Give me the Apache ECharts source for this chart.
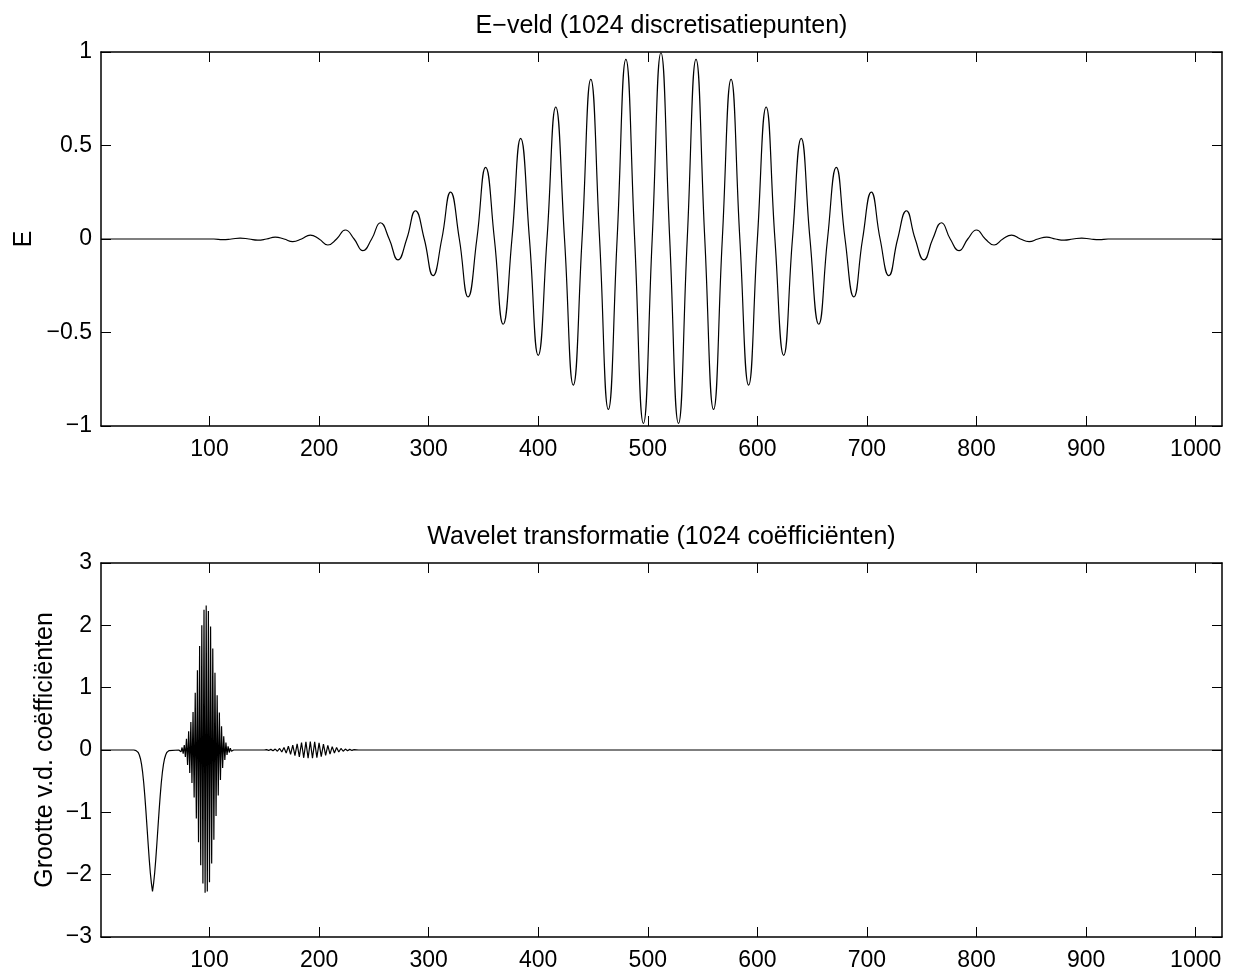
<!DOCTYPE html>
<html><head><meta charset="utf-8">
<script src="https://cdn.jsdelivr.net/npm/echarts@6/dist/echarts.min.js"></script>
<style>html,body{margin:0;padding:0;background:#fff}#c{width:1234px;height:973px}</style>
</head><body><div id="c"></div>
<script>
// ---- data ----
const xTicks = [100, 200, 300, 400, 500, 600, 700, 800, 900, 1000];
const eTicks = [-1, -0.5, 0, 0.5, 1];
const wTicks = [-3, -2, -1, 0, 1, 2, 3];

const topTitle = 'E\u2212veld (1024 discretisatiepunten)';
const botTitle = 'Wavelet transformatie (1024 co\u00ebffici\u00ebnten)';
const topYName = 'E';
const botYName = 'Grootte v.d. co\u00ebffici\u00ebnten';

// E-field: extrema and zero crossings
const ePos = [1,
 104,112,120,128,136,144,152,160,168,176,184,192,200,208,216,224,232,240,248,256,
 264,272,280,288,296,304,312,320,328,336,344,352,360,368,376,384,392,400,408,416,
 424,432,440,448,456,464,472,480,488,496,504,512,520,528,536,544,552,560,568,576,
 584,592,600,608,616,624,632,640,648,656,664,672,680,688,696,704,712,720,728,736,
 744,752,760,768,776,784,792,800,808,816,824,832,840,848,856,864,872,880,888,896,
 904,912,920,
 1024];
const eVal = [0,
 0,-0.003,0,0.005,0,-0.006,0,0.010,0,-0.014,0,0.021,0,-0.032,0,0.048,0,-0.062,0,0.087,
 0,-0.112,0,0.151,0,-0.196,0,0.251,0,-0.310,0,0.383,0,-0.456,0,0.538,0,-0.622,0,0.706,
 0,-0.781,0,0.854,0,-0.911,0,0.961,0,-0.986,0,0.996,0,-0.986,0,0.961,0,-0.911,0,0.854,
 0,-0.781,0,0.706,0,-0.622,0,0.538,0,-0.456,0,0.383,0,-0.310,0,0.251,0,-0.196,0,0.151,
 0,-0.112,0,0.087,0,-0.062,0,0.048,0,-0.032,0,0.021,0,-0.014,0,0.010,0,-0.006,0,0.005,
 0,-0.003,0,
 0];

// Wavelet coefficients
const wPos = [1, 31,
 32,33,34,35,36,37,38,39,40,41,42,43,44,45,46,47,48,49,50,51,52,53,54,55,56,57,58,59,60,61,62,63,64,
 72,
 73,74,75,76,77,78,79,80,81,82,83,84,85,86,87,88,89,90,91,92,93,94,95,96,97,98,99,100,
 101,102,103,104,105,106,107,108,109,110,111,112,113,114,115,116,117,118,119,120,121,
 122, 150,
 152,154,156,158,160,162,164,166,168,170,172,174,176,178,180,182,184,186,188,190,192,
 194,196,198,200,202,204,206,208,210,212,214,216,218,220,222,224,226,228,230,232,
 236, 1024];
const wVal = [0, 0,
 0,-0.01,-0.02,-0.04,-0.08,-0.14,-0.23,-0.36,-0.53,-0.74,-0.98,-1.24,-1.50,-1.75,-1.97,-2.14,-2.27,
 -2.14,-1.97,-1.75,-1.50,-1.24,-0.98,-0.74,-0.53,-0.36,-0.23,-0.14,-0.08,-0.04,-0.02,-0.01,0,
 0,
 0.02,-0.03,0.04,-0.06,0.08,-0.11,0.18,-0.24,0.30,-0.37,0.45,-0.53,0.61,-0.76,0.92,-1.10,1.28,-1.48,
 1.67,-1.85,2.00,-2.14,2.25,-2.29,2.32,-2.27,2.23,-2.12,
 1.98,-1.82,1.63,-1.44,1.24,-1.06,0.88,-0.73,0.60,-0.48,0.38,-0.29,0.22,-0.16,0.12,-0.08,0.06,-0.04,
 0.03,-0.02,0.01,
 0, 0,
 0.005,-0.007,0.010,-0.012,0.015,-0.020,0.025,-0.032,0.040,-0.050,0.060,-0.070,0.080,-0.090,0.100,
 -0.110,0.120,-0.125,0.130,-0.133,0.135,
 -0.133,0.130,-0.123,0.115,-0.105,0.095,-0.085,0.075,-0.065,0.055,-0.047,0.040,-0.032,0.025,-0.020,
 0.015,-0.012,0.010,-0.007,0.005,
 0, 0];

// ---- chart ----
const FONT = '"Liberation Sans", Arial, Helvetica, sans-serif';
const FS = 23;   // tick labels
const FS2 = 25;  // titles and axis names
const minus = v => String(v).replace('-', '\u2212');

function xAx(grid, pos, labels) {
  return {
    type: 'value', gridIndex: grid, position: pos, min: 1, max: 1024,
    axisLine: { show: true, onZero: false, lineStyle: { color: '#000', width: 1.5 } },
    axisTick: { show: true, inside: true, length: 10, customValues: xTicks, lineStyle: { color: '#000', width: 1 } },
    axisLabel: { show: labels, customValues: xTicks, color: '#000', fontFamily: FONT, fontSize: FS, margin: 12, formatter: minus },
    splitLine: { show: false }
  };
}
function yAx(grid, pos, labels, ticks) {
  return {
    type: 'value', gridIndex: grid, position: pos,
    min: ticks[0], max: ticks[ticks.length - 1], interval: ticks[1] - ticks[0],
    axisLine: { show: true, onZero: false, lineStyle: { color: '#000', width: 1.5 } },
    axisTick: { show: true, inside: true, length: 10, lineStyle: { color: '#000', width: 1 } },
    axisLabel: { show: labels, color: '#000', fontFamily: FONT, fontSize: FS, margin: 9, formatter: minus },
    splitLine: { show: false }
  };
}
function txt(text, x, y, rot) {
  return {
    type: 'text', x: x, y: y, rotation: rot || 0, silent: true,
    style: { text: text, fill: '#000', font: FS2 + 'px ' + FONT,
             align: 'center', verticalAlign: 'middle', textAlign: 'center', textVerticalAlign: 'middle' }
  };
}

const chart = echarts.init(document.getElementById('c'), null, { renderer: 'canvas' });
chart.setOption({
  animation: false,
  backgroundColor: '#fff',
  grid: [
    { left: 101, top: 52, width: 1121, height: 374, containLabel: false },
    { left: 101, top: 563, width: 1121, height: 374, containLabel: false }
  ],
  xAxis: [xAx(0, 'bottom', true), xAx(0, 'top', false), xAx(1, 'bottom', true), xAx(1, 'top', false)],
  yAxis: [yAx(0, 'left', true, eTicks), yAx(0, 'right', false, eTicks),
          yAx(1, 'left', true, wTicks), yAx(1, 'right', false, wTicks)],
  series: [
    { type: 'line', xAxisIndex: 0, yAxisIndex: 0, showSymbol: false, symbol: 'none', smooth: 0.5,
      lineStyle: { color: '#000', width: 1.2 }, data: ePos.map((x, i) => [x, eVal[i]]) },
    { type: 'line', xAxisIndex: 2, yAxisIndex: 2, showSymbol: false, symbol: 'none', smooth: false,
      lineStyle: { color: '#000', width: 1.2 }, data: wPos.map((x, i) => [x, wVal[i]]) }
  ],
  graphic: [
    txt(topTitle, 661.5, 26),
    txt(botTitle, 661.5, 537),
    txt(topYName, 24, 239, Math.PI / 2),
    txt(botYName, 45, 750, Math.PI / 2)
  ]
});
</script>
</body></html>
